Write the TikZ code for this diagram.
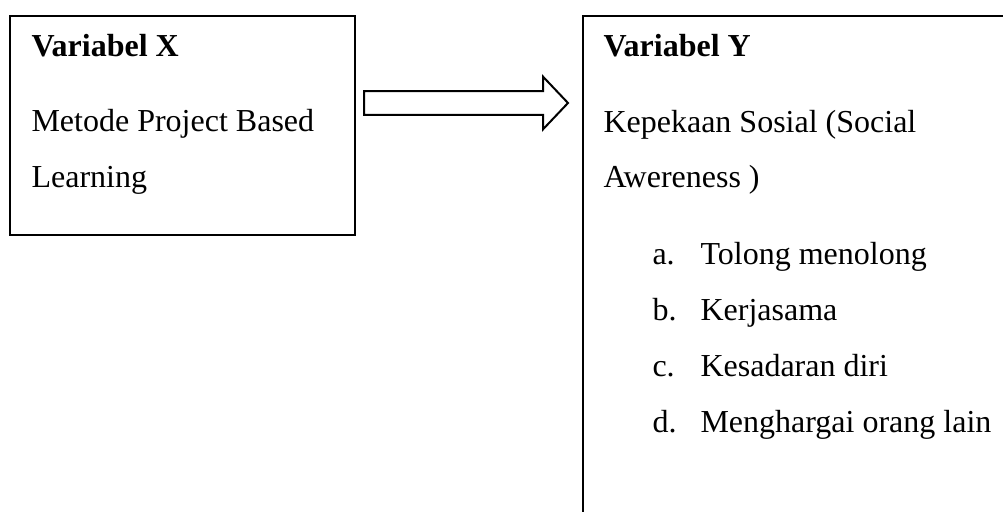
\documentclass[tikz,border=0pt]{standalone}
\usepackage{fontspec}
\setmainfont{Liberation Serif}
\usetikzlibrary{shapes.arrows}

\begin{document}
\begin{tikzpicture}[
        x=0.375pt, y=-0.375pt,
        kotak/.style={draw, line width=0.75pt, anchor=north west, inner sep=0pt, outer sep=0pt},
        teks/.style={anchor=base west, inner sep=0pt, font=\fontsize{12}{14}\selectfont},
        judul/.style={teks, font=\fontsize{12}{14}\selectfont\bfseries},
        panah/.style={single arrow, draw, line width=0.75pt, inner xsep=0pt, inner ysep=4.1pt, outer sep=0pt,
            minimum height=76.5pt, single arrow head extend=5.4pt, single arrow tip angle=93}
    ]
        \useasboundingbox (0,0) rectangle (1003,512);
        \clip (0,0) rectangle (1003,512);

        % kotak variabel X dan Y
        \node[kotak, minimum width=129.4pt, minimum height=82.1pt] (boxX) at (10,16) {};
        \node[kotak, minimum width=165pt, minimum height=195pt] (boxY) at (583,16) {};

        % panah dari X ke Y
        \node[panah, anchor=tail] (panahXY) at (364,103) {};

        \node[judul] (judulX) at (31,57) {Variabel X};
        \node[teks] (isiX1) at (31,132) {Metode Project Based};
        \node[teks] (isiX2) at (31,188) {Learning};

        \node[judul] (judulY) at (603,57) {Variabel Y};
        \node[teks] (isiY1) at (603,133) {Kepekaan Sosial (Social};
        \node[teks] (isiY2) at (603,188) {Awereness )};

        % indikator variabel Y
        \foreach \huruf/\isi [count=\i] in {a/Tolong menolong, b/Kerjasama, c/Kesadaran diri, d/Menghargai orang lain} {
            \node[teks] (huruf\i) at (652,{265+56*(\i-1)}) {\huruf.};
            \node[teks] (indikator\i) at (700,{265+56*(\i-1)}) {\isi};
        }
    \end{tikzpicture}
\end{document}
